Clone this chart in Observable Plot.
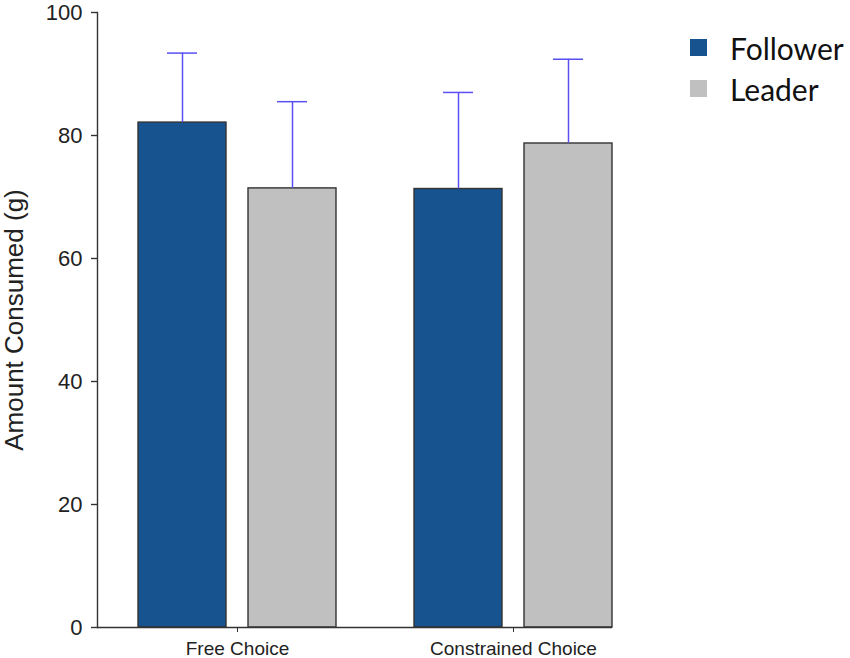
<!DOCTYPE html>
<html>
<head>
<meta charset="utf-8">
<script src="https://cdn.jsdelivr.net/npm/d3@7"></script>
<script src="https://cdn.jsdelivr.net/npm/@observablehq/plot@0.6"></script>
<style>
  body { margin: 0; background: #fff; }
  #wrap { position: relative; width: 850px; height: 658px; }
  .legend { position: absolute; left: 690px; top: 27px; font-family: Lato, "Open Sans", sans-serif; font-size: 30px; color: #111; }
  .legend .item { display: flex; align-items: center; height: 41px; }
  .legend .sw { width: 17px; height: 17px; margin-right: 23px; }
</style>
</head>
<body>
<div id="wrap"></div>
<script>
const categories = ["Free Choice", "Constrained Choice"];
const series = ["Follower", "Leader"];
const followerMean = [82.1, 71.3];
const followerErr = [11.3, 15.7];
const leaderMean = [71.4, 78.7];
const leaderErr = [14.1, 13.7];
const yTicks = [0, 20, 40, 60, 80, 100];
const yLabel = "Amount Consumed (g)";
const colors = ["#17548f", "#c0c0c0"];

const follower = categories.map((c, i) => ({choice: c, value: followerMean[i], upper: followerMean[i] + followerErr[i]}));
const leader = categories.map((c, i) => ({choice: c, value: leaderMean[i], upper: leaderMean[i] + leaderErr[i]}));

const errColor = "#5a4ff4";
const font = "'Liberation Sans', Arial, sans-serif";

const chart = Plot.plot({
  width: 850,
  height: 658,
  marginLeft: 97,
  marginRight: 238,
  marginTop: 12,
  marginBottom: 31,
  style: {fontFamily: font, background: "#fff", color: "#222"},
  x: {domain: categories, paddingInner: 0.2826, paddingOuter: 0.074, align: 1},
  y: {domain: [0, 100]},
  marks: [
    Plot.barY(follower, {x: "choice", y: "value", fill: colors[0], stroke: "#333", strokeWidth: 1.4, insetRight: 110}),
    Plot.barY(leader, {x: "choice", y: "value", fill: colors[1], stroke: "#333", strokeWidth: 1.4, insetLeft: 110}),
    Plot.ruleX(follower, {x: "choice", y1: "value", y2: "upper", dx: -55, stroke: errColor, strokeWidth: 1.5}),
    Plot.ruleX(leader, {x: "choice", y1: "value", y2: "upper", dx: 55, stroke: errColor, strokeWidth: 1.5}),
    Plot.tickY(follower, {x: "choice", y: "upper", dx: -55, insetLeft: 84, insetRight: 84, stroke: errColor, strokeWidth: 1.5}),
    Plot.tickY(leader, {x: "choice", y: "upper", dx: 55, insetLeft: 84, insetRight: 84, stroke: errColor, strokeWidth: 1.5}),
    Plot.frame({anchor: "left", stroke: "#333", strokeWidth: 1.4}),
    Plot.ruleY([0], {stroke: "#333", strokeWidth: 1.4}),
    Plot.axisY({ticks: yTicks, tickSize: 6, tickPadding: 9, fontSize: 22, stroke: "#333", strokeWidth: 1.4, label: null}),
    Plot.text([yLabel], {text: d => d, frameAnchor: "left", textAnchor: "middle", lineAnchor: "middle", rotate: -90, dx: -83, fontSize: 26, fill: "#222"}),
    Plot.axisX({tickSize: 5, tickPadding: 9, fontSize: 19, stroke: "#333", label: null})
  ]
});

document.getElementById("wrap").appendChild(chart);

const legend = document.createElement("div");
legend.className = "legend";
series.forEach((s, i) => {
  const item = document.createElement("div");
  item.className = "item";
  const sw = document.createElement("div");
  sw.className = "sw";
  sw.style.background = colors[i];
  const t = document.createElement("span");
  t.textContent = s;
  item.appendChild(sw);
  item.appendChild(t);
  legend.appendChild(item);
});
document.getElementById("wrap").appendChild(legend);
</script>
</body>
</html>
